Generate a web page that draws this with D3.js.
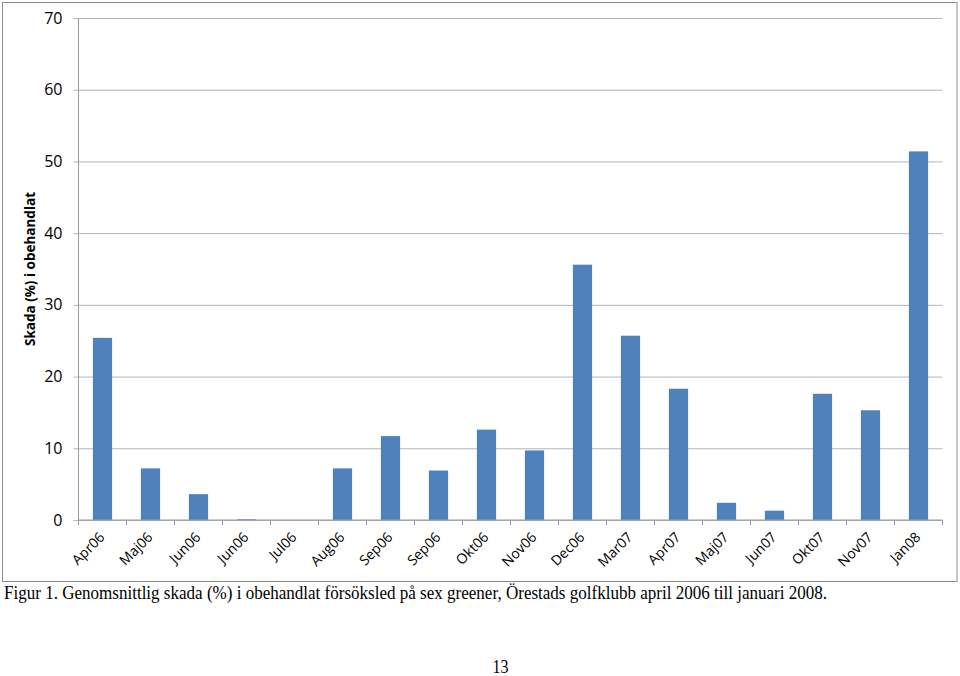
<!DOCTYPE html>
<html>
<head>
<meta charset="utf-8">
<script src="https://cdn.jsdelivr.net/npm/d3@7"></script>
<style>
  body { margin: 0; background: #fff; }
  svg { display: block; }
</style>
</head>
<body>
<div id="vis"></div>
<script>
// chart data
var months = ['Apr06', 'Maj06', 'Jun06', 'Jun06 ', 'Jul06', 'Aug06', 'Sep06', 'Sep06 ', 'Okt06',
  'Nov06', 'Dec06', 'Mar07', 'Apr07', 'Maj07', 'Jun07', 'Okt07', 'Nov07', 'Jan08'];
var skada = [25.4, 7.2, 3.6, 0.1, 0, 7.2, 11.7, 6.9, 12.6, 9.7, 35.6, 25.7, 18.3, 2.4, 1.3, 17.6, 15.3, 51.4];
var yTicks = [0, 10, 20, 30, 40, 50, 60, 70];
var yTitle = 'Skada (%) i obehandlat';
var caption = 'Figur 1. Genomsnittlig skada (%) i obehandlat försöksled på sex greener, Örestads golfklubb april 2006 till januari 2008.';
var pageNo = '13';

var width = 960;
var height = 676;
var plot = { left: 78.5, right: 942.5, top: 18, bottom: 520 };

var svg = d3.select('#vis')
  .append('svg')
  .attr('width', width)
  .attr('height', height);

// chart frame
svg.append('rect')
  .attr('x', 2.5).attr('y', 2.5)
  .attr('width', 954.5).attr('height', 579)
  .attr('fill', 'none')
  .attr('stroke', '#8c8c8c')
  .attr('stroke-width', 1);

var x = d3.scaleBand()
  .domain(months)
  .range([plot.left, plot.right])
  .paddingInner(0.6)
  .paddingOuter(0.3);

var y = d3.scaleLinear()
  .domain([0, 70])
  .range([plot.bottom, plot.top]);

// gridlines + y labels
var yAxis = d3.axisLeft(y)
  .tickValues(yTicks)
  .tickSize(-(plot.right - plot.left))
  .tickPadding(16);

var gy = svg.append('g')
  .attr('transform', 'translate(' + plot.left + ',0)')
  .call(yAxis);
gy.select('.domain').remove();
gy.selectAll('.tick line')
  .attr('stroke', '#b5b5b5')
  .attr('x1', -5);
gy.selectAll('.tick text')
  .attr('fill', '#000')
  .style('font-family', '"Open Sans", sans-serif')
  .style('font-size', '16px');

// vertical axis line
svg.append('line')
  .attr('x1', plot.left).attr('x2', plot.left)
  .attr('y1', plot.top).attr('y2', plot.bottom)
  .attr('stroke', '#9a9a9a');

// bars
svg.selectAll('.bar')
  .data(skada)
  .enter().append('rect')
  .attr('class', 'bar')
  .attr('x', function(d, i) { return x(months[i]); })
  .attr('width', x.bandwidth())
  .attr('y', function(d) { return y(d); })
  .attr('height', function(d) { return y(0) - y(d); })
  .attr('fill', '#4f81bd');

// x axis with ticks between categories
var step = x.step();
var gx = svg.append('g')
  .attr('transform', 'translate(0,' + plot.bottom + ')');
gx.append('line')
  .attr('x1', plot.left).attr('x2', plot.right)
  .attr('stroke', '#9a9a9a');
gx.selectAll('.sep')
  .data(d3.range(months.length + 1))
  .enter().append('line')
  .attr('class', 'sep')
  .attr('x1', function(i) { return plot.left + i * step; })
  .attr('x2', function(i) { return plot.left + i * step; })
  .attr('y1', 0).attr('y2', 5)
  .attr('stroke', '#9a9a9a');

gx.selectAll('.lbl')
  .data(months)
  .enter().append('text')
  .attr('class', 'lbl')
  .attr('text-anchor', 'end')
  .attr('transform', function(d) {
    var cx = x(d) + x.bandwidth() / 2 + 3;
    return 'translate(' + cx + ',18) rotate(-45)';
  })
  .style('font-family', '"Open Sans", sans-serif')
  .style('font-size', '14px')
  .text(function(d) { return d.trim(); });

// y title
svg.append('text')
  .attr('transform', 'translate(35,' + 269 + ') rotate(-90)')
  .attr('text-anchor', 'middle')
  .style('font-family', '"Open Sans", sans-serif')
  .style('font-weight', 'bold')
  .style('font-size', '13.5px')
  .text(yTitle);

// caption below the chart
svg.append('text')
  .attr('x', 4)
  .attr('y', 599)
  .attr('textLength', 823)
  .attr('lengthAdjust', 'spacingAndGlyphs')
  .style('font-family', '"Liberation Serif", "Times New Roman", serif')
  .style('font-size', '18px')
  .text(caption);

svg.append('text')
  .attr('x', 492.5)
  .attr('y', 673)
  .attr('textLength', 16)
  .attr('lengthAdjust', 'spacingAndGlyphs')
  .style('font-family', '"Liberation Serif", "Times New Roman", serif')
  .style('font-size', '19px')
  .text(pageNo);
</script>
</body>
</html>
